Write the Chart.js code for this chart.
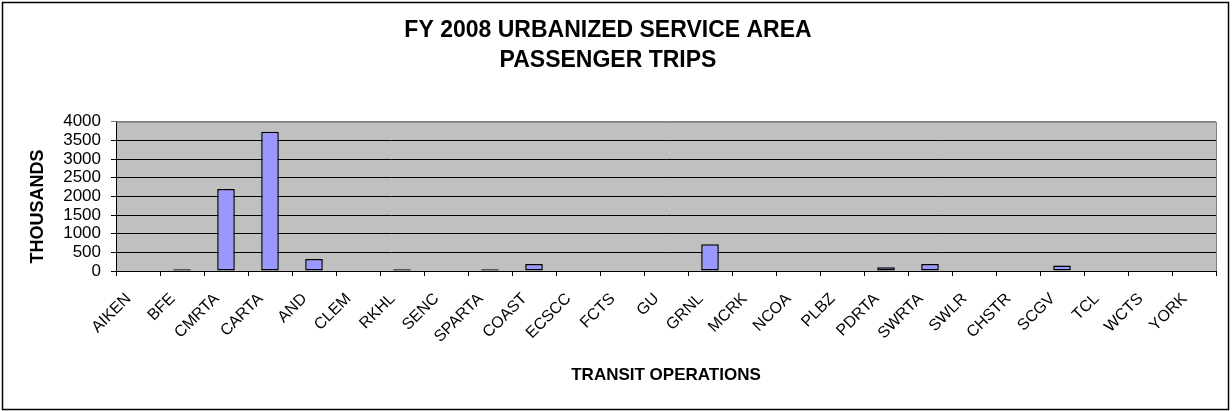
<!DOCTYPE html>
<html>
<head>
<meta charset="utf-8">
<script src="https://cdn.jsdelivr.net/npm/chart.js@4/dist/chart.umd.min.js"></script>
<style>
  html, body { margin: 0; padding: 0; background: #ffffff; }
  #wrap { width: 1232px; height: 411px; }
</style>
</head>
<body>
<div id="wrap"><canvas id="c" width="1232" height="411"></canvas></div>
<script>
const categories = ["AIKEN","BFE","CMRTA","CARTA","AND","CLEM","RKHL","SENC","SPARTA","COAST","ECSCC","FCTS","GU","GRNL","MCRK","NCOA","PLBZ","PDRTA","SWRTA","SWLR","CHSTR","SCGV","TCL","WCTS","YORK"];
const passengerTrips = [0, 50, 2200, 3730, 320, 0, 50, 0, 50, 190, 0, 0, 0, 720, 0, 0, 0, 100, 190, 0, 0, 145, 0, 0, 0];
const titleLines = ["FY 2008 URBANIZED SERVICE AREA", "PASSENGER TRIPS"];
const yAxisTitle = "THOUSANDS";
const xAxisTitle = "TRANSIT OPERATIONS";
const yMin = 0, yMax = 4000, yStep = 500;

Chart.defaults.font.family = "'Liberation Sans', Arial, Helvetica, sans-serif";
Chart.defaults.color = "#000000";

const framePlugin = {
  id: 'frame',
  beforeDraw(chart) {
    const ctx = chart.ctx, a = chart.chartArea;
    ctx.save();
    ctx.fillStyle = '#ffffff';
    ctx.fillRect(0, 0, chart.width, chart.height);
    ctx.fillStyle = '#c0c0c0';
    ctx.fillRect(a.left, a.top, a.right - a.left, a.bottom - a.top);
    ctx.restore();
  },
  afterDraw(chart) {
    const ctx = chart.ctx, a = chart.chartArea;
    ctx.save();
    ctx.strokeStyle = '#808080';
    ctx.lineWidth = 1;
    ctx.beginPath();
    ctx.moveTo(a.left, a.top + 0.5);
    ctx.lineTo(a.right + 0.5, a.top + 0.5);
    ctx.lineTo(a.right + 0.5, a.bottom);
    ctx.stroke();
    ctx.strokeStyle = '#000000';
    ctx.lineWidth = 1.5;
    ctx.strokeRect(2.5, 2.5, 1226, 407);
    ctx.restore();
  }
};

new Chart(document.getElementById('c'), {
  type: 'bar',
  data: {
    labels: categories,
    datasets: [{
      data: passengerTrips,
      backgroundColor: '#9999ff',
      borderColor: '#000000',
      borderWidth: 1.5,
      borderSkipped: false,
      barPercentage: 0.4,
      categoryPercentage: 1.0
    }]
  },
  options: {
    responsive: false,
    animation: false,
    devicePixelRatio: 1,
    layout: { padding: { left: 0, right: 16, top: 0, bottom: 0 } },
    plugins: {
      legend: { display: false },
      tooltip: { enabled: false },
      title: {
        display: true,
        text: titleLines,
        font: { size: 23, weight: 'bold', lineHeight: 1.3 },
        color: '#000000',
        padding: { top: 16, bottom: 46 }
      }
    },
    scales: {
      x: {
        grid: { display: true, drawOnChartArea: false, drawTicks: true, tickLength: 5, color: '#000000', offset: true },
        border: { display: true, color: '#000000', width: 1 },
        ticks: { minRotation: 45, maxRotation: 45, autoSkip: false, font: { size: 16 }, color: '#000000', padding: 4,
                 callback: (v, i) => categories[i] + '   ' },
        title: { display: true, text: xAxisTitle, font: { size: 17, weight: 'bold' }, color: '#000000', padding: { top: 0, bottom: 25 } },
        afterFit(scale) { scale.height = 411 - 271; }
      },
      y: {
        min: yMin, max: yMax,
        grid: { color: ctx => (ctx.tick && ctx.tick.value === yMax) ? '#808080' : '#000000', tickLength: 5, drawTicks: true },
        border: { display: true, color: '#000000', width: 1 },
        ticks: { stepSize: yStep, autoSkip: false, font: { size: 17 }, color: '#000000', padding: 10,
                 callback: v => String(v) },
        title: { display: true, text: yAxisTitle + "    ", font: { size: 18, weight: 'bold' }, color: '#000000', padding: { top: 27, bottom: 0 } },
        afterFit(scale) { scale.width = 116; }
      }
    }
  },
  plugins: [framePlugin]
});
</script>
</body>
</html>
